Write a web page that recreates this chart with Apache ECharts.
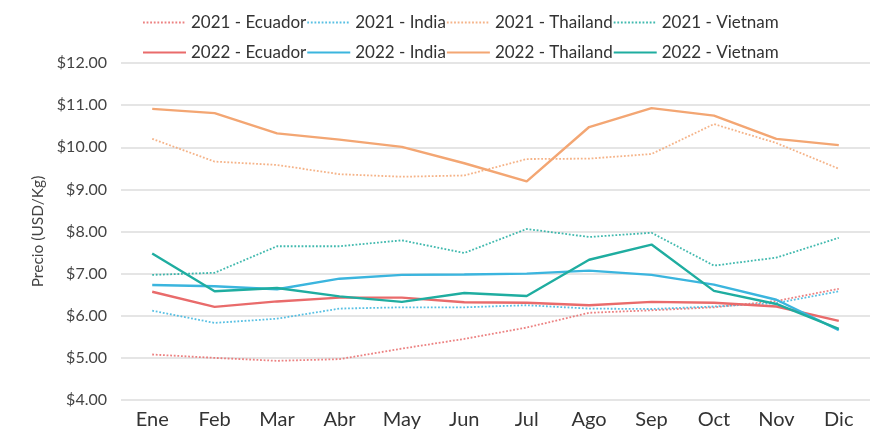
<!DOCTYPE html>
<html>
<head>
<meta charset="utf-8">
<script src="https://cdn.jsdelivr.net/npm/echarts@6/dist/echarts.min.js"></script>
<style>
  html, body { margin: 0; padding: 0; background: #fff; }
  #container { width: 888px; height: 432px; }
</style>
</head>
<body>
<div id="container"></div>
<script>
// meses
var months = ['Ene', 'Feb', 'Mar', 'Abr', 'May', 'Jun', 'Jul', 'Ago', 'Sep', 'Oct', 'Nov', 'Dic'];

// precios USD/Kg
var ecuador2021  = [5.08, 5.00, 4.93, 4.97, 5.22, 5.45, 5.72, 6.07, 6.13, 6.20, 6.35, 6.64];
var india2021    = [6.12, 5.83, 5.93, 6.17, 6.20, 6.20, 6.25, 6.17, 6.16, 6.22, 6.30, 6.58];
var thailand2021 = [10.20, 9.66, 9.58, 9.36, 9.30, 9.33, 9.72, 9.73, 9.84, 10.55, 10.10, 9.49];
var vietnam2021  = [6.97, 7.02, 7.65, 7.65, 7.79, 7.49, 8.06, 7.87, 7.97, 7.19, 7.38, 7.85];

var ecuador2022  = [6.57, 6.21, 6.34, 6.43, 6.43, 6.32, 6.31, 6.25, 6.33, 6.31, 6.22, 5.88];
var india2022    = [6.73, 6.70, 6.63, 6.88, 6.97, 6.98, 7.00, 7.07, 6.97, 6.74, 6.38, 5.66];
var thailand2022 = [10.91, 10.81, 10.33, 10.18, 10.01, 9.62, 9.19, 10.48, 10.93, 10.75, 10.20, 10.05];
var vietnam2022  = [7.48, 6.58, 6.66, 6.46, 6.33, 6.54, 6.47, 7.33, 7.69, 6.59, 6.28, 5.69];

var yTicks = [4, 12, 1]; // min, max, intervalo

var colors = {
	ecuador: '#E96B6B',
	india: '#3BB5DE',
	thailand: '#F3A673',
	vietnam: '#1FADA0'
};
var font = 'Lato, "Open Sans", sans-serif';

function serie(name, data, color, dotted) {
	return {
		name: name,
		type: 'line',
		data: data,
		symbol: 'none',
		smooth: false,
		lineStyle: {
			color: color,
			width: dotted ? 1.8 : 2.4,
			type: dotted ? [1.8, 1.8] : 'solid',
			opacity: dotted ? 0.85 : 1
		},
		itemStyle: { color: color },
		emphasis: { disabled: true }
	};
}

function legend(top, names) {
	return {
		top: top,
		left: 137,
		itemWidth: 43,
		itemHeight: 14,
		itemGap: 0,
		itemStyle: { opacity: 0 },
		textStyle: {
			fontFamily: font,
			fontSize: 17,
			color: '#333',
			width: 122,
			padding: [0, 0, 0, 0]
		},
		data: names
	};
}

var myChart = echarts.init(document.getElementById('container'));
var option = {
	animation: false,
	backgroundColor: '#fff',
	legend: [
		legend(9, ['2021 - Ecuador', '2021 - India', '2021 - Thailand', '2021 - Vietnam']),
		legend(39, ['2022 - Ecuador', '2022 - India', '2022 - Thailand', '2022 - Vietnam'])
	],
	grid: {
		left: 121,
		right: 18,
		top: 63,
		bottom: 32,
		containLabel: false
	},
	xAxis: {
		type: 'category',
		data: months,
		boundaryGap: true,
		axisLine: { show: false },
		axisTick: { show: false },
		axisLabel: {
			margin: 10,
			fontFamily: font,
			fontSize: 20,
			color: '#333'
		}
	},
	yAxis: {
		type: 'value',
		min: yTicks[0],
		max: yTicks[1],
		interval: yTicks[2],
		name: 'Precio (USD/Kg)',
		nameLocation: 'middle',
		nameGap: 73,
		nameTextStyle: {
			fontFamily: font,
			fontSize: 15.5,
			color: '#444'
		},
		axisLine: { show: false },
		axisTick: { show: false },
		axisLabel: {
			margin: 14,
			fontFamily: font,
			fontSize: 16,
			color: '#444',
			formatter: function (v) { return '$' + v.toFixed(2); }
		},
		splitLine: { lineStyle: { color: '#dcdcdc', width: 1.5 } }
	},
	series: [
		serie('2021 - Ecuador', ecuador2021, colors.ecuador, true),
		serie('2021 - India', india2021, colors.india, true),
		serie('2021 - Thailand', thailand2021, colors.thailand, true),
		serie('2021 - Vietnam', vietnam2021, colors.vietnam, true),
		serie('2022 - Ecuador', ecuador2022, colors.ecuador, false),
		serie('2022 - India', india2022, colors.india, false),
		serie('2022 - Thailand', thailand2022, colors.thailand, false),
		serie('2022 - Vietnam', vietnam2022, colors.vietnam, false)
	]
};
myChart.setOption(option);
</script>
</body>
</html>
